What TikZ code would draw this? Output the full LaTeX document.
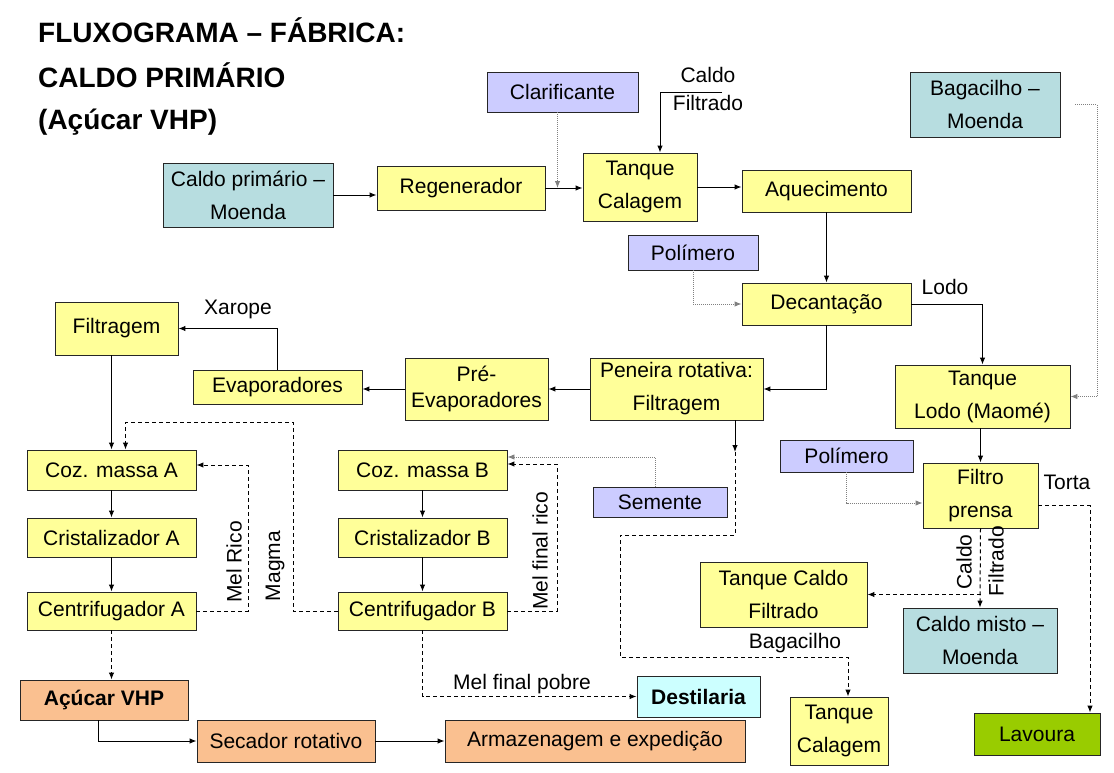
\documentclass[tikz,border=0pt]{standalone}
\usepackage{fontspec}
\setmainfont{Liberation Sans}
\usetikzlibrary{arrows.meta}

\definecolor{yelfill}{HTML}{FFFF99}
\definecolor{lilac}{HTML}{CCCCFF}
\definecolor{tealfill}{HTML}{B7DDE0}
\definecolor{peach}{HTML}{FAC090}
\definecolor{paleblue}{HTML}{CCFFFF}
\definecolor{grass}{HTML}{99CC00}

\begin{document}
\begin{tikzpicture}[x=1pt,y=-1pt,
    >={Latex[length=7pt,width=5.5pt]},
    blk/.style={draw=black!85,line width=0.9pt,align=center,inner sep=1pt,
      font=\fontsize{21}{33}\selectfont},
    yel/.style={blk,fill=yelfill},
    lil/.style={blk,fill=lilac},
    tea/.style={blk,fill=tealfill},
    pch/.style={blk,fill=peach},
    lbl/.style={font=\fontsize{21}{25}\selectfont,inner sep=1pt},
    ttl/.style={font=\fontsize{28}{30}\selectfont\bfseries,anchor=west,inner sep=0pt},
    flow/.style={line width=1pt,->},
    dsh/.style={flow,dash pattern=on 4pt off 3pt},
    dotl/.style={->,line width=0.9pt,black!50,dash pattern=on 1pt off 1pt}]
  \useasboundingbox (0,0) rectangle (1114,773);

  % Helper macro for one block: (style, name, center, width, height, text)
  \newcommand{\blkbox}[6]{%
    \node[#1,minimum width=#4pt,minimum height=#5pt] (#2) at (#3) {#6};
  }

  % Title
  \node[ttl] (t1) at (38,30) {FLUXOGRAMA – FÁBRICA:};
  \node[ttl] (t2) at (38,75) {CALDO PRIMÁRIO};
  \node[ttl] (t3) at (38,122) {(Açúcar VHP)};

  % Clarification line
  \blkbox{lil}{clar}{562.5,92}{151}{40}{Clarificante}
  \blkbox{tea}{caldoP}{248,195}{170}{64}{Caldo primário –\\Moenda}
  \blkbox{yel}{regen}{461,188}{168}{44}{Regenerador}
  \blkbox{yel}{tqCal}{640,187}{114}{68}{Tanque\\Calagem}
  \blkbox{yel}{aquec}{826.5,191}{169}{42}{Aquecimento}
  \blkbox{tea}{bagM}{985,104.5}{150}{65}{Bagacilho –\\Moenda}
  \blkbox{lil}{polA}{693,252.5}{130}{35}{Polímero}
  \blkbox{yel}{decant}{826.5,304}{169}{42}{Decantação}

  % Evaporation
  \blkbox{yel}{filtr}{116.5,328.5}{123}{53}{Filtragem}
  \blkbox{yel}{evap}{277.5,387}{169}{34}{Evaporadores}
  \blkbox{yel,font=\fontsize{21}{26}\selectfont}{preEv}{476.5,389}{143}{62}{Pré-\\Evaporadores}
  \blkbox{yel}{peneira}{676.5,389}{173}{62}{Peneira rotativa:\\Filtragem}
  \blkbox{yel}{tqLodo}{982.5,396.5}{175}{63}{Tanque\\Lodo (Maomé)}
  \blkbox{lil}{polB}{846.5,456}{133}{32}{Polímero}
  \blkbox{yel}{filtroP}{980.5,495.5}{115}{65}{Filtro\\prensa}

  % Cooking A and B
  \blkbox{yel}{cozA}{111.5,470}{169}{40}{Coz. massa A}
  \blkbox{yel}{cozB}{422.5,470}{169}{40}{Coz. massa B}
  \blkbox{lil}{semente}{660,502}{134}{30}{Semente}
  \blkbox{yel}{cristA}{111.5,537.5}{169}{39}{Cristalizador A}
  \blkbox{yel}{cristB}{422.5,537.5}{169}{39}{Cristalizador B}
  \blkbox{yel}{centA}{111.5,611}{169}{38}{Centrifugador A}
  \blkbox{yel}{centB}{422.5,611}{169}{38}{Centrifugador B}
  \blkbox{yel}{tqCF}{783.5,594.5}{167}{65}{Tanque Caldo\\Filtrado}
  \blkbox{tea}{caldoM}{980,640.5}{154}{65}{Caldo misto –\\Moenda}

  % Outputs
  \blkbox{pch,font=\fontsize{21}{33}\selectfont\bfseries}{acucar}{104,700}{168}{40}{Açúcar VHP}
  \blkbox{blk,fill=paleblue,font=\fontsize{21}{33}\selectfont\bfseries}{destil}{698.5,696.5}{123}{41}{Destilaria}
  \blkbox{yel}{tqCal2}{839,731}{98}{68}{Tanque\\Calagem}
  \blkbox{blk,fill=grass}{lavoura}{1037,734}{126}{42}{Lavoura}
  \blkbox{pch}{secador}{286,741}{178}{42}{Secador rotativo}
  \blkbox{pch}{armaz}{595,741}{300}{42}{Armazenagem e expedição}

  % Free ends and bends
  \coordinate (cfIn) at (722,93);
  \coordinate (bgR) at (1097,250);
  \coordinate (mgTop) at (293,422);
  \coordinate (mrx) at (248,0);
  \coordinate (mfx) at (557,0);
  \coordinate (pnB) at (735,452);
  \coordinate (bgA) at (620,535);
  \coordinate (bgB) at (620,657);

  % Solid flow
  \draw[flow] (caldoP.east) -- (caldoP.east -| regen.west);
  \draw[flow] (regen.east) -- (regen.east -| tqCal.west);
  \draw[flow] (cfIn) -| ([xshift=20pt]tqCal.north);
  \draw[flow] (tqCal.east) -- (tqCal.east -| aquec.west);
  \draw[flow] (aquec.south) -- (decant.north);
  \draw[flow] (decant.east) -| (tqLodo.north);
  \draw[flow] (decant.south) |- (peneira.east);
  \draw[flow] (peneira.west) -- (preEv.east);
  \draw[flow] (preEv.west) -- (preEv.west -| evap.east);
  \draw[flow] (evap.north) |- (filtr.east);
  \draw[flow] (filtr.south -| cozA.north) -- (cozA.north);
  \draw[flow] (cozA) -- (cristA);
  \draw[flow] (cristA) -- (centA);
  \draw[flow] (cozB) -- (cristB);
  \draw[flow] (cristB) -- (centB);
  \draw[flow] (peneira.south -| pnB) -- (pnB);
  \draw[flow] (tqLodo.south -| filtroP.north) -- (filtroP.north);
  \draw[flow] ([xshift=-6pt]acucar.south) |- (secador.west);
  \draw[flow] (secador.east) -- (armaz.west);

  % Dashed flow
  \draw[dsh] (centB.west) -| (mgTop) -| ([xshift=14pt]cozA.north);
  \draw[dsh] (centA.east) -- (centA.east -| mrx) |- ([yshift=5pt]cozA.east);
  \draw[dsh] (centB.east) -- (centB.east -| mfx) |- ([yshift=6pt]cozB.east);
  \draw[dsh] (centA.south) -- (centA.south |- acucar.north);
  \draw[dsh] (centB.south) |- (destil.west);
  \draw[dsh] (pnB) |- (bgA) -- (bgB) -| ([xshift=9pt]tqCal2.north);
  \draw[dsh] ([yshift=-10pt]filtroP.east) -| ([xshift=53pt]lavoura.north);
  \draw[dsh] (filtroP.south) -- (caldoM.north);
  \draw[dsh] (filtroP.south |- tqCF.east) -- (tqCF.east);

  % Dotted additives
  \draw[dotl] ([xshift=-5pt]clar.south) -- ([xshift=-5pt]clar.south |- regen.east);
  \draw[dotl] (polA.south) |- (decant.west);
  \draw[dotl] (polB.south) |- ([yshift=-7.5pt]filtroP.west);
  \draw[dotl] ([xshift=-5pt]semente.north) |- ([yshift=13pt]cozB.east);
  \draw[dotl] ([xshift=15pt]bagM.east) -| (bgR) |- (tqLodo.east);

  % Labels
  \node[lbl] (lCaldo) at (708,75) {Caldo};
  \node[lbl] (lFiltrado) at (708,103) {Filtrado};
  \node[lbl] (lLodo) at (945,287) {Lodo};
  \node[lbl] (lXarope) at (238,309) {Xarope};
  \node[lbl,rotate=90] (lMelRico) at (234,562) {Mel Rico};
  \node[lbl,rotate=90] (lMagma) at (275,566) {Magma};
  \node[lbl,rotate=90] (lMelFR) at (540,551) {Mel final rico};
  \node[lbl] (lPobre) at (522,684) {Mel final pobre};
  \node[lbl] (lBagac) at (795,643) {Bagacilho};
  \node[lbl] (lTorta) at (1067,482) {Torta};
  \node[lbl,rotate=90] (lCaldo2) at (964,562) {Caldo};
  \node[lbl,rotate=90] (lFiltr2) at (996,561) {Filtrado};
\end{tikzpicture}
\end{document}
